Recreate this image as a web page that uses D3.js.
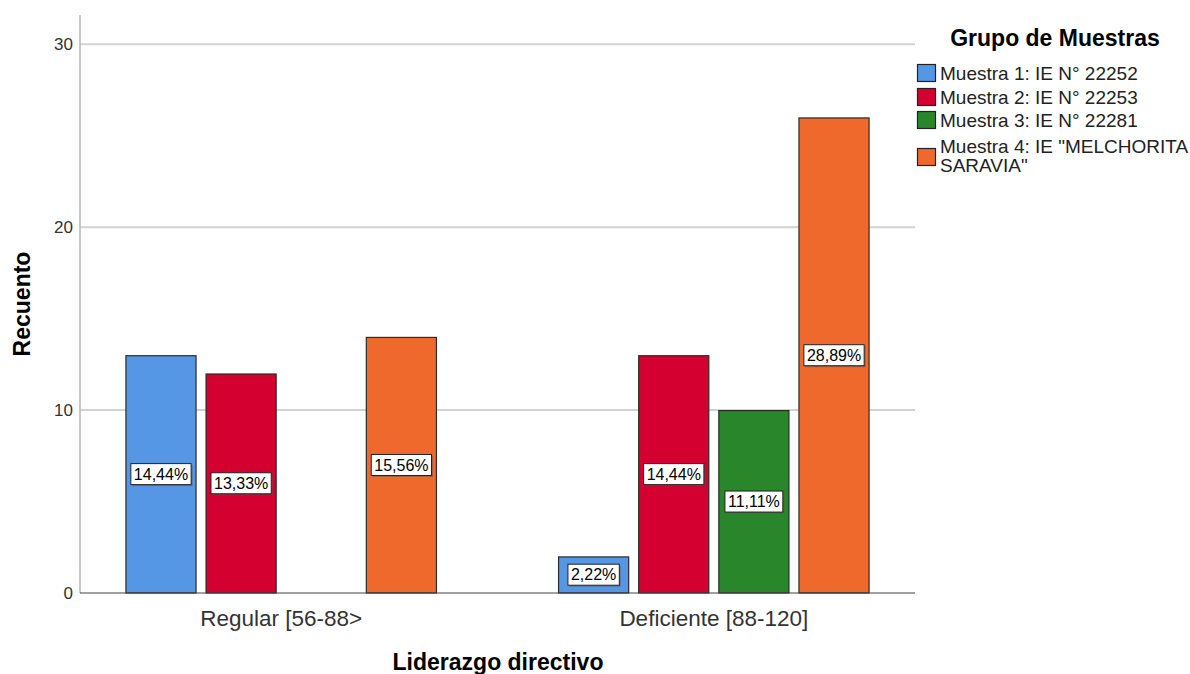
<!DOCTYPE html>
<html>
<head>
<meta charset="utf-8">
<script src="https://cdn.jsdelivr.net/npm/d3@7"></script>
<style>
  html, body { margin: 0; padding: 0; background: #fff; }
  svg { display: block; font-family: "Liberation Sans", Arial, sans-serif; }
</style>
</head>
<body>
<svg id="chart" width="1190" height="674"></svg>
<script>
// Categories on the x axis
const categories = ["Regular [56-88>", "Deficiente [88-120]"];
// Sample groups (legend series)
const series = [
  "Muestra 1: IE N° 22252",
  "Muestra 2: IE N° 22253",
  "Muestra 3: IE N° 22281",
  "Muestra 4: IE \"MELCHORITA SARAVIA\""
];
const seriesColors = ["#5597e4", "#d40030", "#2a862a", "#f0692c"];
// Counts per series, one value per category
const muestra1 = [13, 2];
const muestra2 = [12, 13];
const muestra3 = [0, 10];
const muestra4 = [14, 26];
const counts = [muestra1, muestra2, muestra3, muestra4];
const yTicks = [0, 10, 20, 30];

const total = d3.sum(counts.flat());
const rows = [];
categories.forEach((c, ci) => {
  series.forEach((s, si) => {
    rows.push({ cat: c, series: s, si, value: counts[si][ci] });
  });
});

const svg = d3.select("#chart");
const plot = { left: 80, right: 915, top: 15, bottom: 593 };

const x = d3.scaleBand().domain(categories)
  .range([plot.left, plot.right]).paddingInner(0.28).paddingOuter(0.105);
const xs = d3.scaleBand().domain(series)
  .range([0, x.bandwidth()]).paddingInner(0.1125).paddingOuter(0);
const y = d3.scaleLinear().domain([0, 31.6]).range([plot.bottom, plot.top]);
const color = d3.scaleOrdinal().domain(series).range(seriesColors);

// Horizontal grid lines
svg.append("g").selectAll("line").data(yTicks.filter(t => t > 0)).join("line")
  .attr("x1", plot.left).attr("x2", plot.right)
  .attr("y1", d => y(d)).attr("y2", d => y(d))
  .attr("stroke", "#d2d2d2").attr("stroke-width", 2);

// Y axis
const yAxis = svg.append("g").attr("transform", `translate(${plot.left},0)`)
  .call(d3.axisLeft(y).tickValues(yTicks).tickSize(0).tickPadding(7));
yAxis.select(".domain").remove();
yAxis.selectAll("text").attr("font-size", 17).attr("fill", "#333")
  .attr("font-family", "'Liberation Sans', Arial, sans-serif");
svg.append("line").attr("x1", plot.left).attr("x2", plot.left)
  .attr("y1", plot.top).attr("y2", plot.bottom)
  .attr("stroke", "#b5b5b5").attr("stroke-width", 1.5);

// Bars
const bars = rows.filter(d => d.value > 0);
svg.append("g").selectAll("rect").data(bars).join("rect")
  .attr("x", d => x(d.cat) + xs(d.series) + 0.5)
  .attr("y", d => y(d.value) + 0.5)
  .attr("width", xs.bandwidth() - 1)
  .attr("height", d => y(0) - y(d.value) - 0.5)
  .attr("fill", d => color(d.series))
  .attr("stroke", "#2b2b2b").attr("stroke-width", 1.2);

// Baseline
svg.append("line").attr("x1", plot.left).attr("x2", plot.right)
  .attr("y1", plot.bottom).attr("y2", plot.bottom)
  .attr("stroke", "#444").attr("stroke-width", 1.2);

// Percentage labels
const fmt = v => (v / total * 100).toFixed(2).replace(".", ",") + "%";
const lab = svg.append("g").selectAll("g").data(bars).join("g")
  .attr("transform", d => `translate(${x(d.cat) + xs(d.series) + xs.bandwidth() / 2},${(y(d.value) + y(0)) / 2})`);
lab.each(function(d) {
  const g = d3.select(this);
  const t = g.append("text").text(fmt(d.value))
    .attr("text-anchor", "middle").attr("dy", "0.36em")
    .attr("font-size", 16).attr("fill", "#000");
  const w = t.node().getComputedTextLength() + 6;
  g.insert("rect", "text")
    .attr("x", -w / 2 + 1.5).attr("y", -10.5 + 1.5).attr("width", w).attr("height", 21)
    .attr("fill", "#555").attr("opacity", 0.5);
  g.insert("rect", "text")
    .attr("x", -w / 2).attr("y", -10.5).attr("width", w).attr("height", 21)
    .attr("fill", "#fff").attr("stroke", "#222").attr("stroke-width", 1);
});

// Category labels
svg.append("g").selectAll("text").data(categories).join("text")
  .attr("x", d => x(d) + x.bandwidth() / 2).attr("y", 626)
  .attr("text-anchor", "middle").attr("font-size", 22.5).attr("fill", "#333")
  .text(d => d);

// Axis titles
svg.append("text").attr("x", 498).attr("y", 670)
  .attr("text-anchor", "middle").attr("font-size", 23).attr("font-weight", "bold")
  .attr("fill", "#000").text("Liderazgo directivo");
svg.append("text").attr("transform", "translate(30,304) rotate(-90)")
  .attr("text-anchor", "middle").attr("font-size", 23).attr("font-weight", "bold")
  .attr("fill", "#000").text("Recuento");

// Legend
const legend = svg.append("g");
legend.append("text").attr("x", 1055).attr("y", 46)
  .attr("text-anchor", "middle").attr("font-size", 23).attr("font-weight", "bold")
  .attr("fill", "#000").text("Grupo de Muestras");
const legendRows = [
  { lines: ["Muestra 1: IE N° 22252"], base: 80, sw: 73 },
  { lines: ["Muestra 2: IE N° 22253"], base: 104, sw: 97 },
  { lines: ["Muestra 3: IE N° 22281"], base: 127, sw: 120 },
  { lines: ["Muestra 4: IE \"MELCHORITA", "SARAVIA\""], base: 153, sw: 157 }
];
legendRows.forEach((r, i) => {
  legend.append("rect").attr("x", 917.5).attr("y", r.sw - 8.5)
    .attr("width", 18).attr("height", 17)
    .attr("fill", color(series[i])).attr("stroke", "#222").attr("stroke-width", 1.2);
  r.lines.forEach((ln, li) => {
    legend.append("text").attr("x", 940).attr("y", r.base + li * 19)
      .attr("font-size", 19).attr("fill", "#222").text(ln);
  });
});
</script>
</body>
</html>
